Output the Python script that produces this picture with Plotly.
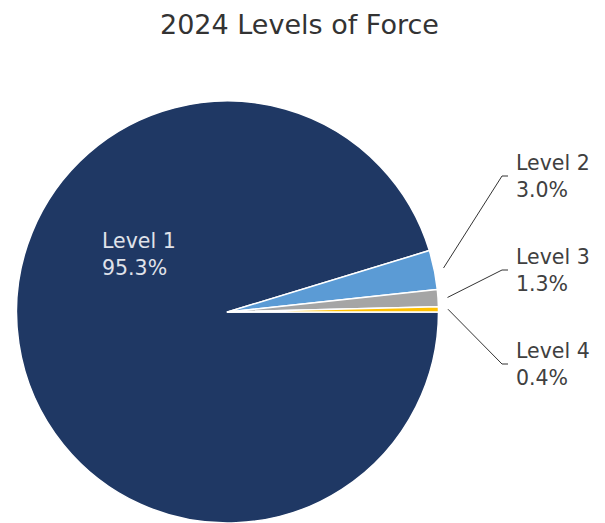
import math
import plotly.graph_objects as go

# Use-of-force levels for 2024 (share of incidents, %)
levels = ["Level 1", "Level 2", "Level 3", "Level 4"]
shares = [95.3, 3.0, 1.3, 0.4]
colors = ["#1F3864", "#5B9BD5", "#A5A5A5", "#FFC000"]

W, H = 605, 523
FONT = "DejaVu Sans"

# Pie box in pixels (left, top, right, bottom)
box = (16.5, 101, 438.5, 523)
cx = (box[0] + box[2]) / 2
cy = (box[1] + box[3]) / 2
radius = (box[2] - box[0]) / 2


def px(x):
    return x / W


def py(y):
    return 1 - y / H


fig = go.Figure(
    go.Pie(
        labels=levels,
        values=shares,
        marker=dict(colors=colors, line=dict(color="white", width=1.5)),
        sort=False,
        direction="clockwise",
        rotation=90,
        textinfo="none",
        hoverinfo="label+percent",
        showlegend=False,
        domain=dict(x=[px(box[0]), px(box[2])], y=[py(box[3]), py(box[1])]),
    )
)

annotations = [
    dict(
        text="2024 Levels of Force",
        x=px(299), y=py(24), xref="paper", yref="paper",
        xanchor="center", yanchor="middle", showarrow=False,
        font=dict(family=FONT, size=27, color="#333333"),
    ),
    dict(
        text=f"{levels[0]}<br>{shares[0]:.1f}%",
        x=px(100), y=py(254), xref="paper", yref="paper",
        xanchor="left", yanchor="middle", align="left", showarrow=False,
        font=dict(family=FONT, size=20.5, color="#E0E3EA"),
    ),
]
shapes = []

# Outside labels with elbow leader lines for the small slices
total = sum(shares)
label_y = [176, 270, 364]
cum = shares[0]
for i in range(1, len(levels)):
    mid = (cum + shares[i] / 2) / total
    cum += shares[i]
    # slices run clockwise from 3 o'clock; screen y grows downward
    ang = 2 * math.pi * mid
    sx = cx + radius * 1.045 * math.cos(ang)
    sy = cy + radius * 1.045 * math.sin(ang)
    ly = label_y[i - 1]
    path = f"M {px(sx)} {py(sy)} L {px(502)} {py(ly)} L {px(508)} {py(ly)}"
    shapes.append(dict(type="path", path=path, xref="paper", yref="paper",
                       line=dict(color="#333333", width=1)))
    annotations.append(dict(
        text=f"{levels[i]}<br>{shares[i]:.1f}%",
        x=px(514), y=py(ly), xref="paper", yref="paper",
        xanchor="left", yanchor="middle", align="left", showarrow=False,
        font=dict(family=FONT, size=20.5, color="#404040"),
    ))

fig.update_layout(
    width=W, height=H,
    margin=dict(l=0, r=0, t=0, b=0),
    paper_bgcolor="white",
    plot_bgcolor="white",
    annotations=annotations,
    shapes=shapes,
)

fig.write_html("out.html")
